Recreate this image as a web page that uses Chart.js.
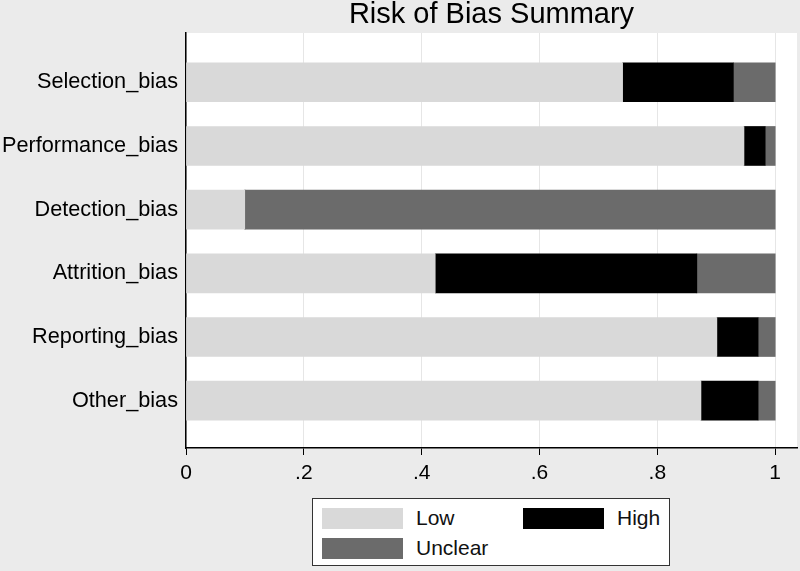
<!DOCTYPE html>
<html>
<head>
<meta charset="utf-8">
<script src="https://cdn.jsdelivr.net/npm/chart.js@4/dist/chart.umd.min.js"></script>
<style>
    html, body { margin: 0; padding: 0; background: #ebebeb; }
    #wrap { position: relative; width: 800px; height: 571px; }
    #legend {
        position: absolute; left: 312px; top: 498px; width: 358px; height: 68px;
        background: #fff; border: 1px solid #333;
        display: grid; grid-template-columns: 201px 150px; grid-auto-rows: 30px;
        padding: 4px 0 0 9px; box-sizing: border-box;
        font-family: "Liberation Sans", Arial, sans-serif; font-size: 21px; color: #111;
    }
    .item { display: flex; align-items: center; }
    .swatch { width: 81px; height: 21px; margin-right: 13px; }
</style>
</head>
<body>
<div id="wrap">
    <canvas id="grafico" width="800" height="571"></canvas>
    <div id="legend"></div>
</div>
<script>
const categorias = ['Selection_bias', 'Performance_bias', 'Detection_bias', 'Attrition_bias', 'Reporting_bias', 'Other_bias'];
const low = [0.741, 0.947, 0.100, 0.423, 0.901, 0.874];
const high = [0.188, 0.036, 0.000, 0.444, 0.070, 0.097];
const unclear = [0.071, 0.017, 0.900, 0.133, 0.029, 0.029];
const xTicks = [0, 0.2, 0.4, 0.6, 0.8, 1];
const xTickLabels = ['0', '.2', '.4', '.6', '.8', '1'];

const fonte = '"Liberation Sans", Arial, sans-serif';

const toPoints = arr => arr.map((v, i) => ({ x: v, y: i }));

// fundo branco so na area do grafico
const plotBg = {
    id: 'plotBg',
    beforeDraw(chart) {
        const { ctx, chartArea } = chart;
        ctx.save();
        ctx.fillStyle = '#ffffff';
        ctx.fillRect(chartArea.left, chartArea.top, chartArea.right - chartArea.left, chartArea.bottom - chartArea.top);
        ctx.restore();
    }
};

const chart = new Chart(document.getElementById('grafico'), {
    type: 'bar',
    data: {
        datasets: [
            { label: 'Low', data: toPoints(low), backgroundColor: '#d9d9d9' },
            { label: 'High', data: toPoints(high), backgroundColor: '#000000' },
            { label: 'Unclear', data: toPoints(unclear), backgroundColor: '#6b6b6b' }
        ]
    },
    options: {
        indexAxis: 'y',
        responsive: false,
        animation: false,
        barThickness: 39,
        borderWidth: 0,
        layout: { padding: { left: 0, right: 3, top: 0, bottom: 0 } },
        plugins: {
            legend: { display: false },
            tooltip: { enabled: false },
            title: {
                display: true,
                fullSize: false,
                text: 'Risk of Bias Summary',
                color: '#000',
                font: { family: fonte, size: 29, weight: 'normal', lineHeight: 1 },
                padding: { top: 0, bottom: 4 }
            }
        },
        scales: {
            x: {
                type: 'linear',
                stacked: true,
                min: 0,
                max: 1.037,
                afterFit(scale) { scale.height = 123; },
                afterBuildTicks(scale) { scale.ticks = xTicks.map(v => ({ value: v })); },
                ticks: {
                    padding: 6,
                    color: '#000',
                    font: { family: fonte, size: 21 },
                    callback: (v, i) => xTickLabels[i]
                },
                grid: { color: '#e6e6e6', tickColor: '#000', tickLength: 7, lineWidth: 1 },
                border: { display: true, color: '#000', width: 1.5 }
            },
            y: {
                type: 'linear',
                stacked: true,
                reverse: true,
                offset: false,
                min: -0.774,
                max: 5.743,
                afterFit(scale) { scale.width = 186; },
                ticks: {
                    stepSize: 1,
                    includeBounds: false,
                    padding: 8,
                    color: '#000',
                    font: { family: fonte, size: 21.7 },
                    callback: v => categorias[v] || ''
                },
                grid: { display: false, drawTicks: false, offset: false },
                border: { display: true, color: '#000', width: 1.5 }
            }
        }
    },
    plugins: [plotBg]
});

// legenda em html, feita a partir dos datasets
const legend = document.getElementById('legend');
const ordem = [0, 1, 2];
ordem.forEach(i => {
    const ds = chart.data.datasets[i];
    const item = document.createElement('div');
    item.className = 'item';
    const sw = document.createElement('span');
    sw.className = 'swatch';
    sw.style.background = ds.backgroundColor;
    const txt = document.createElement('span');
    txt.textContent = ds.label;
    item.appendChild(sw);
    item.appendChild(txt);
    legend.appendChild(item);
});
</script>
</body>
</html>
